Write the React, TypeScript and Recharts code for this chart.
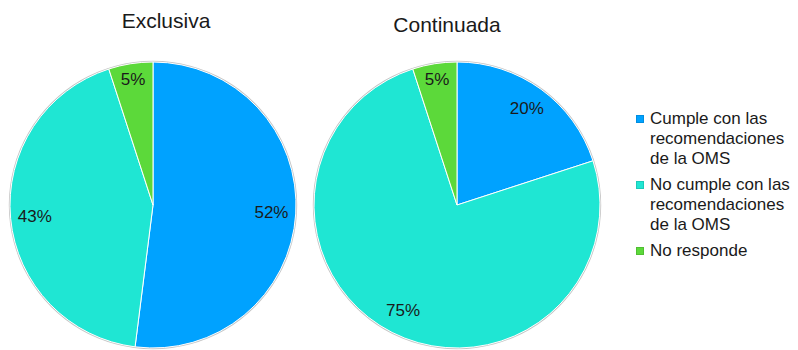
import { PieChart, Pie, Cell, Legend } from 'recharts';

// Lactancia: cumplimiento de las recomendaciones de la OMS
const categories = [
  'Cumple con las recomendaciones de la OMS',
  'No cumple con las recomendaciones de la OMS',
  'No responde',
];
const exclusiva = [52, 43, 5];
const continuada = [20, 75, 5];
const titles = ['Exclusiva', 'Continuada'];

const COLORS = ['#00a2ff', '#1fe6d3', '#5cd93a'];
const FONT = '"Liberation Sans", Arial, sans-serif';
const RADIAN = Math.PI / 180;
const R = 143;

const toRows = (values: number[]) => categories.map((name, i) => ({ name, value: values[i] }));
const ring = [{ name: 'outline', value: 1 }];

// Percent label inside each slice; thin slices get pushed a bit toward the rim.
function sliceLabel(props: any) {
  const { cx, cy, midAngle, outerRadius, value, percent } = props;
  const r = outerRadius * (percent < 0.1 ? 0.89 : 0.83);
  const x = cx + r * Math.cos(-midAngle * RADIAN);
  const y = cy + r * Math.sin(-midAngle * RADIAN);
  return (
    <text x={x} y={y} textAnchor="middle" dominantBaseline="central" fill="#1a1a1a" fontSize={17} fontFamily={FONT}>
      {`${value}%`}
    </text>
  );
}

function LegendBox() {
  return (
    <div style={{ fontFamily: FONT, fontSize: 17, lineHeight: '20px', color: '#1a1a1a' }}>
      {categories.map((c, i) => (
        <div key={c} style={{ display: 'flex', alignItems: 'flex-start', marginBottom: 6 }}>
          <span style={{ width: 8, height: 8, marginTop: 6, marginRight: 6, background: COLORS[i], flex: 'none', boxShadow: 'inset 0 0 0 1px rgba(0,0,0,0.12)' }} />
          <span style={{ width: 146 }}>{c}</span>
        </div>
      ))}
    </div>
  );
}

const titleStyle = {
  position: 'absolute' as const,
  width: 120,
  textAlign: 'center' as const,
  fontFamily: FONT,
  fontSize: 21,
  lineHeight: '21px',
  color: '#1a1a1a',
};

export default function App() {
  const pies = [
    { key: 'exclusiva', cx: 153, values: exclusiva },
    { key: 'continuada', cx: 457, values: continuada },
  ];
  return (
    <div style={{ position: 'absolute', left: 0, top: 0, width: 798, height: 350, background: '#fff' }}>
      <div style={{ ...titleStyle, left: 106, top: 10 }}>{titles[0]}</div>
      <div style={{ ...titleStyle, left: 387, top: 14 }}>{titles[1]}</div>
      <PieChart width={798} height={350} margin={{ top: 0, right: 0, bottom: 0, left: 0 }}>
        {/* thin grey rim drawn as a slightly larger disc behind each pie */}
        {pies.map((p) => (
          <Pie
            key={`${p.key}-ring`}
            data={ring}
            dataKey="value"
            cx={p.cx}
            cy={205}
            outerRadius={R + 1.2}
            fill="#c4c4c4"
            stroke="none"
            legendType="none"
            isAnimationActive={false}
          />
        ))}
        {pies.map((p) => (
          <Pie
            key={p.key}
            data={toRows(p.values)}
            dataKey="value"
            nameKey="name"
            cx={p.cx}
            cy={205}
            outerRadius={R}
            startAngle={90}
            endAngle={-270}
            stroke="#ffffff"
            strokeWidth={1}
            label={sliceLabel}
            labelLine={false}
            isAnimationActive={false}
          >
            {p.values.map((_, i) => (
              <Cell key={i} fill={COLORS[i]} />
            ))}
          </Pie>
        ))}
        <Legend
          layout="vertical"
          content={() => <LegendBox />}
          wrapperStyle={{ left: 636, top: 109, width: 162 }}
        />
      </PieChart>
    </div>
  );
}
